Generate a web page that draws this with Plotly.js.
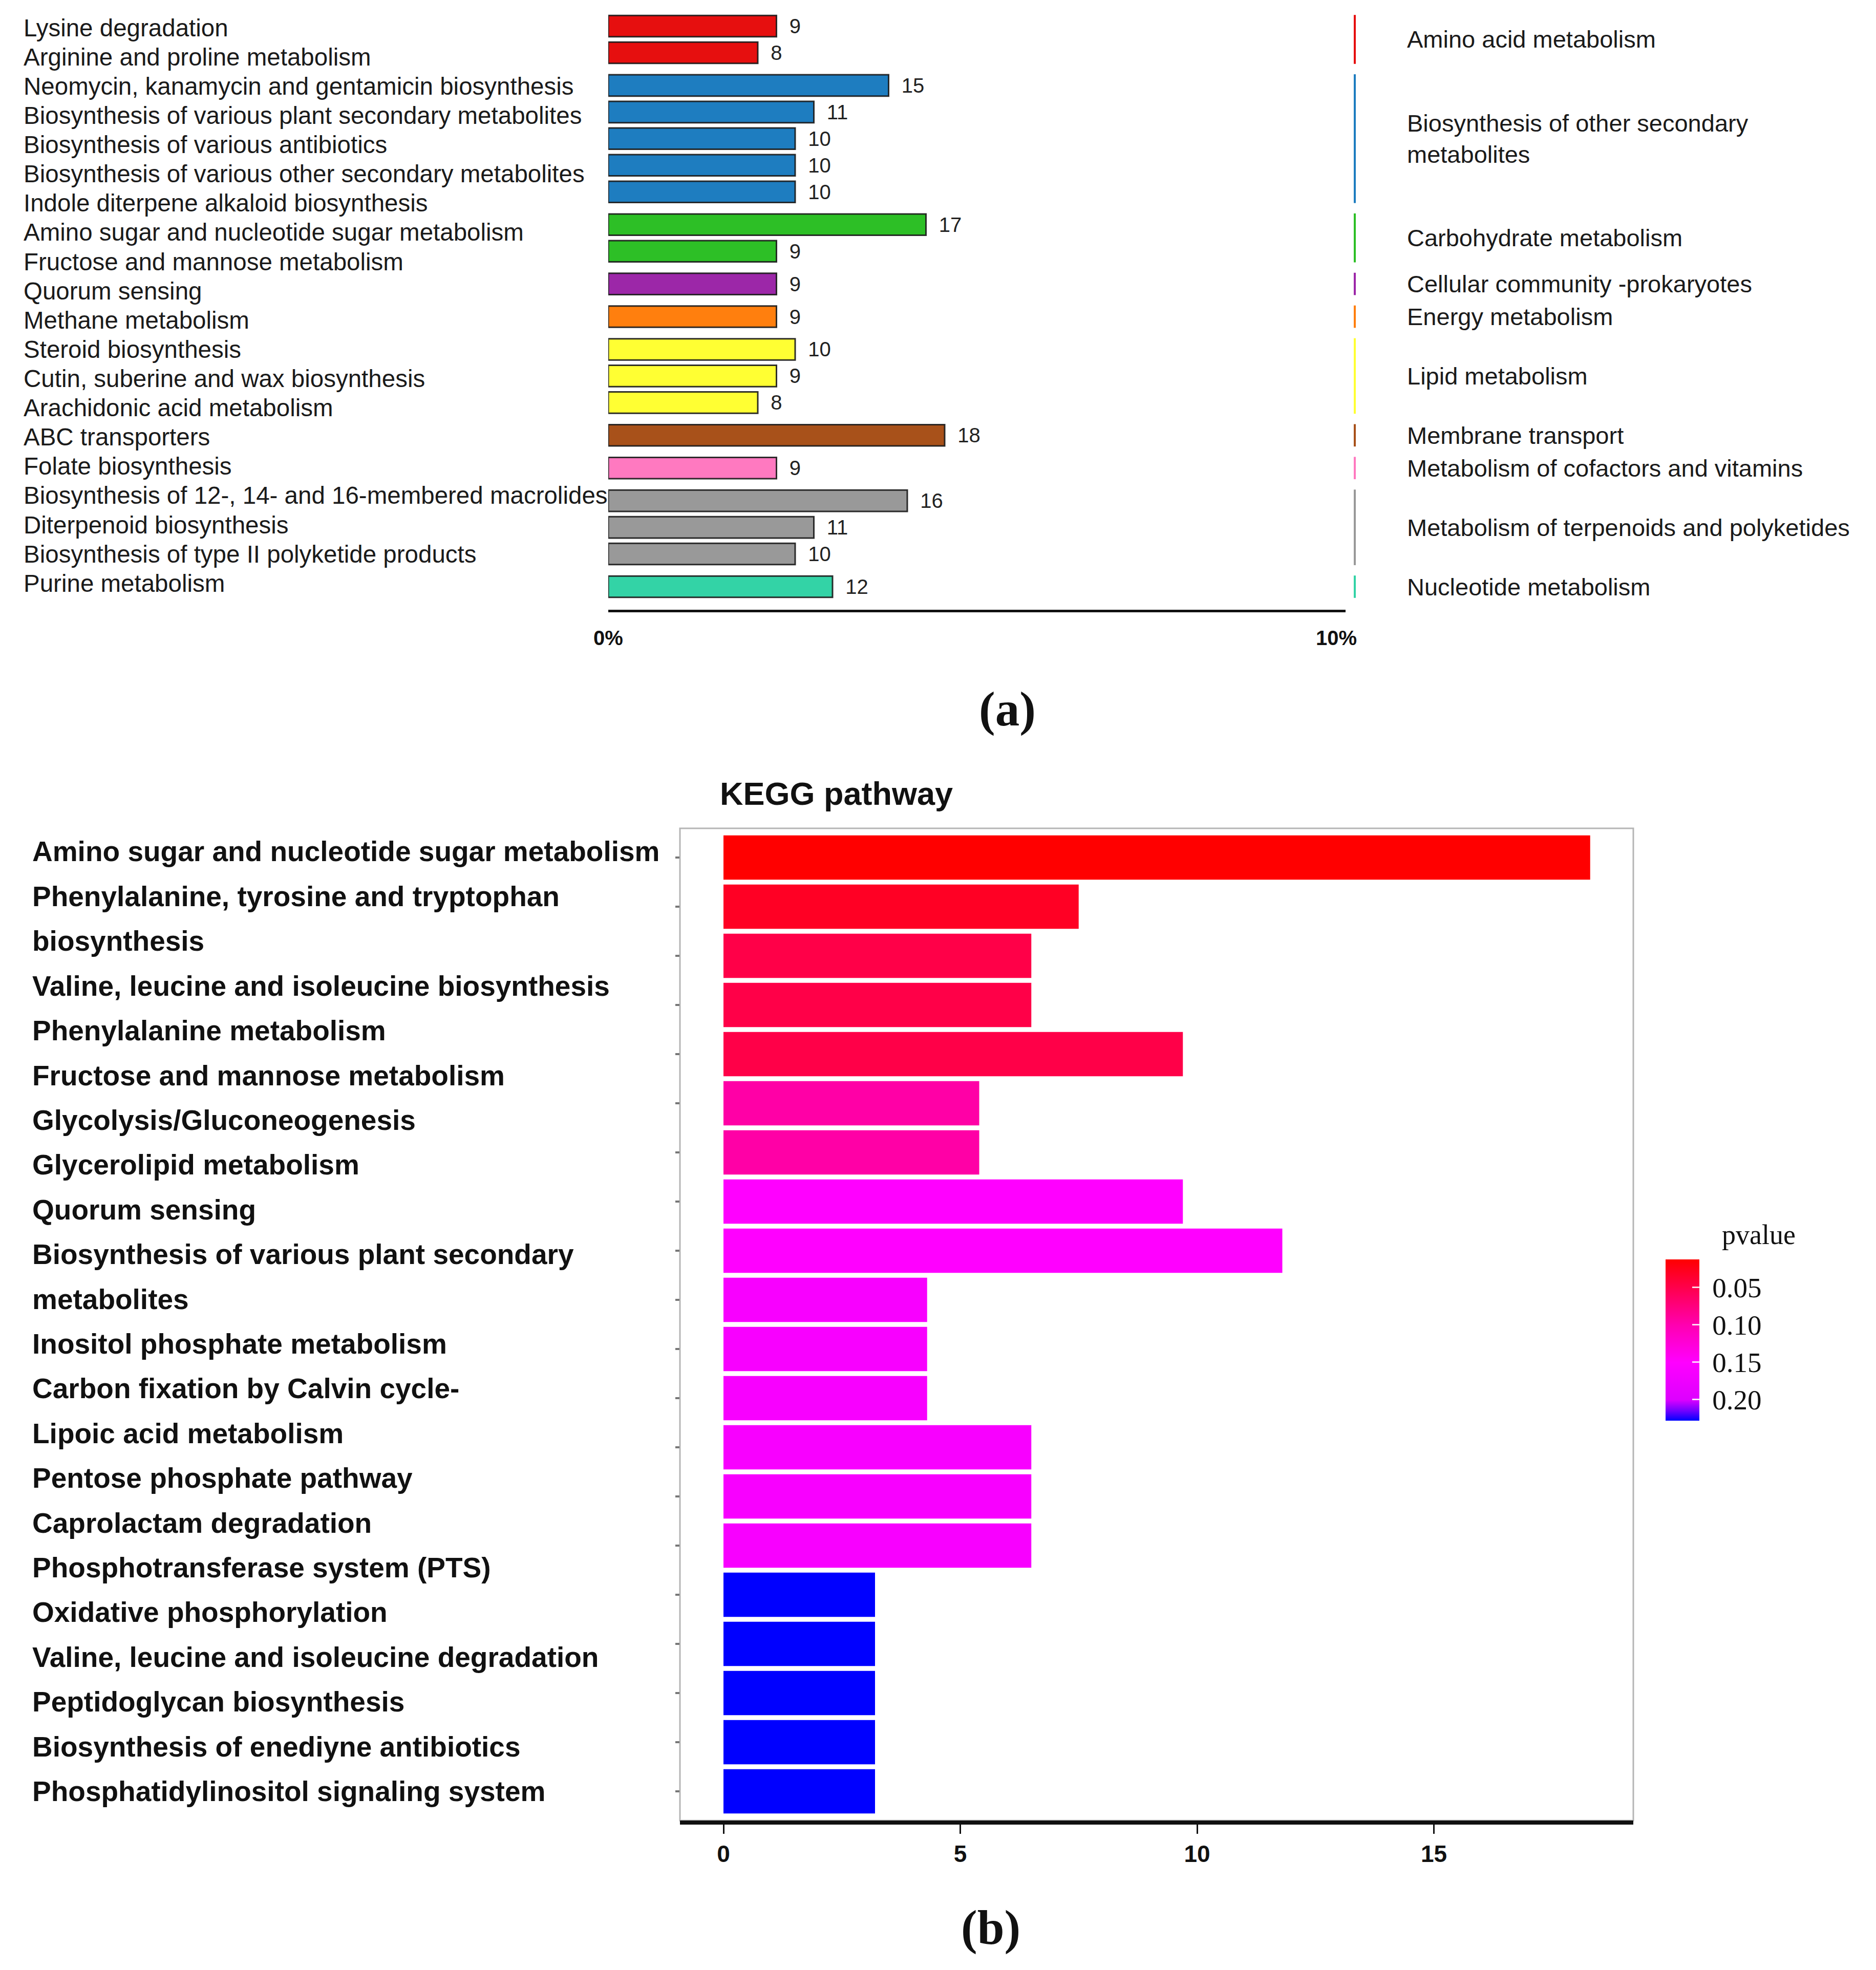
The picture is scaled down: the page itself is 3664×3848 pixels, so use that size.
<!DOCTYPE html>
<html><head><meta charset="utf-8">
<script src="https://cdn.plot.ly/plotly-3.0.1.min.js"></script>
<style>html,body{margin:0;padding:0;background:#fff;} #chart{width:3664px;height:3848px;}</style>
</head><body><div id="chart"></div>
<script>
const W = 3664, H = 3848;
const SANS = 'Liberation Sans, Arial, sans-serif';
const SERIF = 'Liberation Serif, Times New Roman, serif';

// ---------- Panel (a) data ----------
const aPathways = [
  "Lysine degradation",
  "Arginine and proline metabolism",
  "Neomycin, kanamycin and gentamicin biosynthesis",
  "Biosynthesis of various plant secondary metabolites",
  "Biosynthesis of various antibiotics",
  "Biosynthesis of various other secondary metabolites",
  "Indole diterpene alkaloid biosynthesis",
  "Amino sugar and nucleotide sugar metabolism",
  "Fructose and mannose metabolism",
  "Quorum sensing",
  "Methane metabolism",
  "Steroid biosynthesis",
  "Cutin, suberine and wax biosynthesis",
  "Arachidonic acid metabolism",
  "ABC transporters",
  "Folate biosynthesis",
  "Biosynthesis of 12-, 14- and 16-membered macrolides",
  "Diterpenoid biosynthesis",
  "Biosynthesis of type II polyketide products",
  "Purine metabolism"
];
const aCounts = [9, 8, 15, 11, 10, 10, 10, 17, 9, 9, 9, 10, 9, 8, 18, 9, 16, 11, 10, 12];
const aPathwayClass = [0, 0, 1, 1, 1, 1, 1, 2, 2, 3, 4, 5, 5, 5, 6, 7, 8, 8, 8, 9];
const aClasses = [
  "Amino acid metabolism",
  "Biosynthesis of other secondary<br>metabolites",
  "Carbohydrate metabolism",
  "Cellular community -prokaryotes",
  "Energy metabolism",
  "Lipid metabolism",
  "Membrane transport",
  "Metabolism of cofactors and vitamins",
  "Metabolism of terpenoids and polyketides",
  "Nucleotide metabolism"
];
const aClassColors = ["#e60f0f", "#1e7dc0", "#2dbf26", "#9c27a8", "#ff7f0e", "#ffff33", "#a8511a", "#ff79c0", "#999999", "#33d3a6"];
const aTickPercents = [0, 10];
const aTotalGenes = 389.6;   // count that corresponds to 100 %

// ---------- Panel (b) data ----------
const bPathways = [
  "Amino sugar and nucleotide sugar metabolism",
  "Phenylalanine, tyrosine and tryptophan<br>biosynthesis",
  "Valine, leucine and isoleucine biosynthesis",
  "Phenylalanine metabolism",
  "Fructose and mannose metabolism",
  "Glycolysis/Gluconeogenesis",
  "Glycerolipid metabolism",
  "Quorum sensing",
  "Biosynthesis of various plant secondary<br>metabolites",
  "Inositol phosphate metabolism",
  "Carbon fixation by Calvin cycle-",
  "Lipoic acid metabolism",
  "Pentose phosphate pathway",
  "Caprolactam degradation",
  "Phosphotransferase system (PTS)",
  "Oxidative phosphorylation",
  "Valine, leucine and isoleucine degradation",
  "Peptidoglycan biosynthesis",
  "Biosynthesis of enediyne antibiotics",
  "Phosphatidylinositol signaling system"
];
const bValues = [18.3, 7.5, 6.5, 6.5, 9.7, 5.4, 5.4, 9.7, 11.8, 4.3, 4.3, 4.3, 6.5, 6.5, 6.5, 3.2, 3.2, 3.2, 3.2, 3.2];
const bPvalues = [0.012, 0.03, 0.048, 0.048, 0.048, 0.095, 0.095, 0.15, 0.15, 0.16, 0.16, 0.16, 0.16, 0.16, 0.16, 0.228, 0.228, 0.228, 0.228, 0.228];
const bXTicks = [0, 5, 10, 15];
const pTicks = [0.05, 0.10, 0.15, 0.20];
const pStops = [0.012, 0.05, 0.10, 0.15, 0.20, 0.215, 0.228];
const pStopColors = ["#ff0000", "#ff004c", "#ff00b0", "#ff00ff", "#dd00ff", "#7000ff", "#0000ff"];

// ---------- derived positions (panel a) ----------
const groupGap = 0.23;
const aPos = aCounts.map((_, i) => i + aPathwayClass[i] * groupGap);
const aFirst = aPos[0], aLast = aPos[aPos.length - 1];
const aLblFirst = aFirst + 0.06, aLblLast = aLast - 0.13;
const aLabelPos = aPathways.map((_, i) => aLblFirst + i * (aLblLast - aLblFirst) / (aPathways.length - 1));
const aColors = aPathwayClass.map(c => aClassColors[c]);

// ---------- derived (panel b) ----------
const bIdx = bPathways.map((_, i) => i);
const bLines = [];
bPathways.forEach(p => p.split('<br>').forEach(l => bLines.push(l)));
const bLblFirst = -0.12, bLblLast = bIdx.length - 1;
const bLinePos = bLines.map((_, k) => bLblFirst + k * (bLblLast - bLblFirst) / (bLines.length - 1));
const pMin = pStops[0], pMax = pStops[pStops.length - 1];
const colorscale = pStops.map((p, i) => [Math.round((pMax - p) / (pMax - pMin) * 1e6) / 1e6, pStopColors[i]]).reverse();

const px = v => v / W;
const py = v => 1 - v / H;

const traces = [
  {
    type: 'bar', orientation: 'h', x: aCounts, y: aPos, width: 0.8,
    xaxis: 'x', yaxis: 'y',
    marker: { color: aColors, line: { color: 'rgba(25,25,25,0.9)', width: 3 } },
    text: aCounts.map(String), texttemplate: '\u00a0\u00a0%{x}', textposition: 'outside',
    textfont: { family: SANS, size: 40, color: '#222' }, constraintext: 'none', cliponaxis: false,
    hoverinfo: 'skip', showlegend: false
  },
  {
    type: 'bar', orientation: 'h', x: bValues, y: bIdx, width: 0.9,
    xaxis: 'x2', yaxis: 'y2',
    marker: {
      color: bPvalues.map(p => -p), cmin: -pMax, cmax: -pMin, colorscale: colorscale, showscale: true,
      line: { width: 0 },
      colorbar: {
        x: px(3253), xanchor: 'left', y: py(2617), yanchor: 'middle',
        len: 315, lenmode: 'pixels', thickness: 66, thicknessmode: 'pixels',
        outlinewidth: 0, xpad: 0, ypad: 0,
        tickvals: pTicks.map(p => -p), ticktext: pTicks.map(p => '\u00a0' + p.toFixed(2)),
        ticks: 'inside', ticklen: 14, tickwidth: 3, tickcolor: 'rgba(255,255,255,0.85)',
        tickfont: { family: SERIF, size: 55, color: '#111' }
      }
    },
    hoverinfo: 'skip', showlegend: false
  }
];

const annotations = [];
aPathways.forEach((t, i) => annotations.push({
  text: t, xref: 'paper', x: px(44), xanchor: 'left', yref: 'y', y: aLabelPos[i], yanchor: 'middle',
  showarrow: false, font: { family: SANS, size: 47.5, color: '#1a1a1a' }
}));
const shapes = [];
aClasses.forEach((c, g) => {
  const ps = aPos.filter((_, i) => aPathwayClass[i] === g);
  const lo = Math.min(...ps), hi = Math.max(...ps);
  shapes.push({ type: 'line', xref: 'paper', x0: px(2646), x1: px(2646), yref: 'y', y0: lo - 0.42, y1: hi + 0.42,
    line: { color: aClassColors[g], width: 4 } });
  annotations.push({
    text: c, xref: 'paper', x: px(2746), xanchor: 'left', yref: 'y', y: (lo + hi) / 2, yanchor: 'middle', align: 'left',
    showarrow: false, font: { family: SANS, size: 47, color: '#1a1a1a' }
  });
});
bLines.forEach((t, k) => annotations.push({
  text: t, xref: 'paper', x: px(61), xanchor: 'left', yref: 'y2', y: bLinePos[k], yanchor: 'middle',
  showarrow: false, font: { family: SANS, size: 55, color: '#111', weight: 'bold' }
}));
annotations.push({ text: 'pvalue', xref: 'paper', x: px(3361), xanchor: 'left', yref: 'paper', y: py(2412), yanchor: 'middle',
  showarrow: false, font: { family: SERIF, size: 54, color: '#111' } });
annotations.push({ text: '(a)', xref: 'paper', x: px(1967), xanchor: 'center', yref: 'paper', y: py(1385), yanchor: 'middle',
  showarrow: false, font: { family: SERIF, size: 95, color: '#111', weight: 'bold' } });
annotations.push({ text: '(b)', xref: 'paper', x: px(1935), xanchor: 'center', yref: 'paper', y: py(3765), yanchor: 'middle',
  showarrow: false, font: { family: SERIF, size: 95, color: '#111', weight: 'bold' } });

shapes.push({ type: 'rect', xref: 'x2 domain', yref: 'y2 domain', x0: 0, x1: 1, y0: 0, y1: 1,
  line: { color: '#b5b5b5', width: 3 }, layer: 'below' });

const aPxPerUnit = 36.5;
const layout = {
  width: W, height: H, margin: { l: 0, r: 0, t: 0, b: 0 },
  paper_bgcolor: '#fff', plot_bgcolor: 'rgba(0,0,0,0)', showlegend: false,
  title: { text: 'KEGG pathway', xref: 'paper', yref: 'paper', x: px(1406), xanchor: 'left', y: py(1550), yanchor: 'middle',
    font: { family: SANS, size: 63, color: '#111', weight: 'bold' } },
  xaxis: {
    domain: [px(1188), px(2628)], range: [0, (2628 - 1188) / aPxPerUnit], anchor: 'y',
    showgrid: false, zeroline: false, showline: true, linecolor: '#111', linewidth: 5,
    ticks: '', tickvals: aTickPercents.map(p => p / 100 * aTotalGenes), ticktext: aTickPercents.map(p => p + '%'),
    tickfont: { family: SANS, size: 40, color: '#111', weight: 'bold' }, ticklabelstandoff: 16
  },
  yaxis: {
    domain: [py(1191), 1], range: [aFirst + (1191 - 51) / 51.97, aFirst - 51 / 51.97], anchor: 'x',
    showgrid: false, zeroline: false, showline: false, showticklabels: false, ticks: ''
  },
  xaxis2: {
    domain: [px(1328), px(3190)], range: [-(1413 - 1328) / 92.5, (3190 - 1413) / 92.5], anchor: 'y2',
    showgrid: false, zeroline: false, showline: true, linecolor: '#111', linewidth: 8,
    tickvals: bXTicks, ticktext: bXTicks.map(String), ticks: 'outside', ticklen: 18, tickwidth: 3, tickcolor: '#111',
    tickfont: { family: SANS, size: 46, color: '#111', weight: 'bold' }, ticklabelstandoff: 0
  },
  yaxis2: {
    domain: [py(3556), py(1618)], range: [(3556 - 1675) / 96, -(1675 - 1618) / 96], anchor: 'x2',
    showgrid: false, zeroline: false, showline: false, showticklabels: false,
    tickvals: bIdx, ticks: 'outside', ticklen: 8, tickwidth: 4, tickcolor: '#777'
  },
  annotations: annotations, shapes: shapes
};

Plotly.newPlot('chart', traces, layout, { displayModeBar: false, staticPlot: true });
</script>
</body></html>
